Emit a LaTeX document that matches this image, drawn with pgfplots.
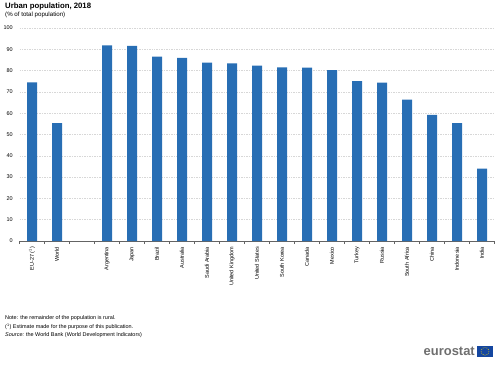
\documentclass[border=0pt]{standalone}
\usepackage{pgfplots}
\pgfplotsset{compat=1.18}
\usepackage{fontspec}
\setmainfont{Liberation Sans}
\definecolor{barblue}{RGB}{40,110,180}
\definecolor{gridgray}{RGB}{215,215,215}
\definecolor{axisgray}{RGB}{100,100,100}
\definecolor{logogray}{RGB}{110,110,110}
\definecolor{flagblue}{RGB}{20,70,160}
\definecolor{flagyellow}{RGB}{255,220,0}
\begin{document}
\begin{tikzpicture}[x=1bp,y=1bp]
\useasboundingbox (0,0) rectangle (500,-365);
\node[anchor=north west, inner sep=0, font=\fontsize{7.8}{9}\selectfont\bfseries] at (5,-3) {Urban population, 2018};
\node[anchor=north west, inner sep=0, font=\fontsize{6.2}{7}\selectfont] at (5,-11.5) {(\% of total population)};
\begin{axis}[
  at={(19.5bp,-241bp)}, anchor=south west,
  scale only axis, width=475bp, height=213bp,
  xmin=-0.5, xmax=18.5, ymin=0, ymax=100,
  enlargelimits=false,
  ybar, bar width=10bp,
  axis x line*=bottom, axis y line*=left,
  y axis line style={draw=none},
  x axis line style={axisgray, line width=0.6pt},
  ytick={0,10,...,100},
  ytick style={draw=none},
  ymajorgrids, grid style={gridgray, dash pattern=on 1.5pt off 1pt, line width=0.5pt},
  xtick={0,...,18},
  xticklabels={EU-27 (\textsuperscript{1}),World,,Argentina,Japan,Brazil,Australia,Saudi Arabia,United Kingdom,United States,South Korea,Canada,Mexico,Turkey,Russia,South Africa,China,Indonesia,India},
  major x tick style={draw=none},
  minor xtick={-0.5,0.5,...,18.5},
  minor x tick style={axisgray, line width=0.5pt},
  minor tick length=3bp,
  tick align=outside,
  x tick label style={rotate=90, anchor=east, font=\fontsize{5.5}{6}\selectfont, inner sep=1.5pt},
  y tick label style={font=\fontsize{5.5}{6}\selectfont, xshift=1bp},
  /pgf/number format/assume math mode=true,
]
\addplot[fill=barblue, draw=none] coordinates {
(0,74.5) (1,55.3) (3,91.9) (4,91.6) (5,86.6) (6,86.0) (7,83.8) (8,83.4) (9,82.3) (10,81.5) (11,81.4) (12,80.2) (13,75.1) (14,74.4) (15,66.4) (16,59.2) (17,55.3) (18,34.0)
};
\end{axis}
\node[anchor=north west, inner sep=0, font=\fontsize{5.5}{6}\selectfont] at (5,-315) {Note: the remainder of the population is rural.};
\node[anchor=north west, inner sep=0, font=\fontsize{5.5}{6}\selectfont] at (5,-323.5) {(\textsuperscript{1}) Estimate made for the purpose of this publication.};
\node[anchor=north west, inner sep=0, font=\fontsize{5.5}{6}\selectfont] at (5,-332) {\textit{Source:} the World Bank (World Development Indicators)};
\node[anchor=east, inner sep=0, font=\fontsize{13}{14}\selectfont\bfseries, text=logogray] at (475,-351.5) {eurostat};
\fill[flagblue] (477,-345.5) rectangle (493,-357);
\foreach \a in {0,30,...,330} {\fill[flagyellow] ({485+3.8*cos(\a)},{-351.25+3.8*sin(\a)}) circle (0.45);}
\end{tikzpicture}
\end{document}
